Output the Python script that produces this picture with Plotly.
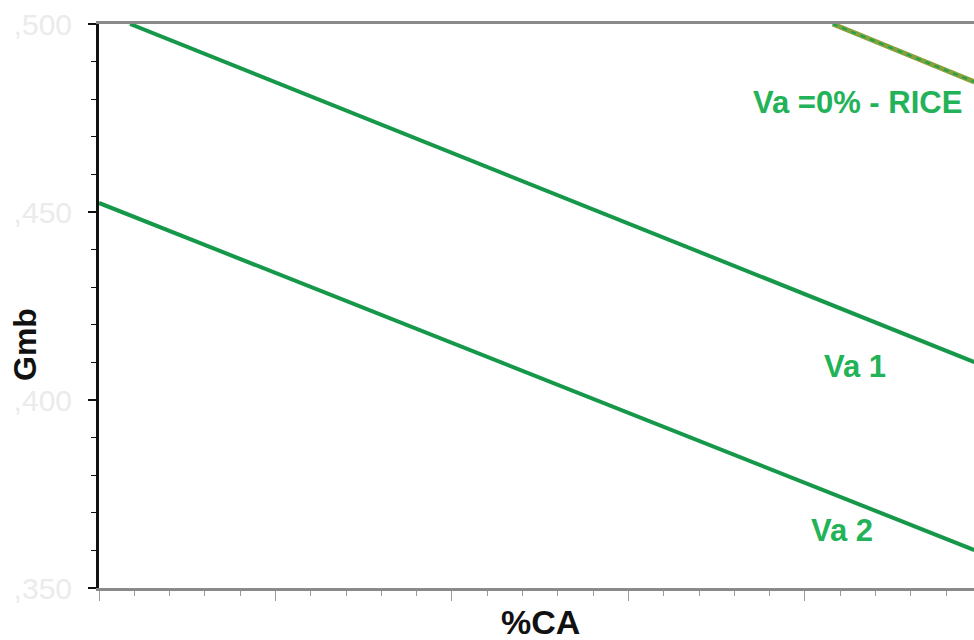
import plotly.graph_objects as go

# %CA (x) and Gmb (y) end points of each relation line
va1_ca = [0.88, 24.8]
va1_gmb = [0.500, 0.4101]

va2_ca = [0.0, 24.8]
va2_gmb = [0.4524, 0.3601]

rice_ca = [20.79, 24.8]
rice_gmb = [0.500, 0.4846]

y_tick_vals = [0.35, 0.40, 0.45, 0.50]
y_tick_text = [",350", ",400", ",450", ",500"]

labels = ["Va =0% - RICE", "Va 1", "Va 2"]
label_ca = [21.5, 21.42, 21.05]
label_gmb = [0.4790, 0.4088, 0.3654]

LINE_GREEN = "#16984a"
TEXT_GREEN = "#22b257"
OLIVE = "#86a03a"

fig = go.Figure()

fig.add_trace(go.Scatter(x=va1_ca, y=va1_gmb, mode="lines",
                         line=dict(color=LINE_GREEN, width=4), showlegend=False))
fig.add_trace(go.Scatter(x=va2_ca, y=va2_gmb, mode="lines",
                         line=dict(color=LINE_GREEN, width=4), showlegend=False))
# RICE line: olive base with green dashes on top
fig.add_trace(go.Scatter(x=rice_ca, y=rice_gmb, mode="lines",
                         line=dict(color=OLIVE, width=5), showlegend=False))
fig.add_trace(go.Scatter(x=rice_ca, y=rice_gmb, mode="lines",
                         line=dict(color="#14a552", width=2, dash="5px,5px"),
                         showlegend=False))

for t, xv, yv in zip(labels, label_ca, label_gmb):
    fig.add_annotation(x=xv, y=yv, text=t, showarrow=False,
                       font=dict(family="Arial, Liberation Sans", size=31,
                                 color=TEXT_GREEN, weight="bold"))

# axis titles placed in paper space
fig.add_annotation(x=540, y=622, xref="paper", yref="paper", text="<b>%CA</b>",
                   showarrow=False, font=dict(size=34, color="#111111"))
fig.add_annotation(x=25, y=345, xref="paper", yref="paper", text="<b>Gmb</b>",
                   textangle=-90, showarrow=False, font=dict(size=32, color="#111111"))

# convert the pixel anchors above to paper fractions
for ann in fig.layout.annotations[-2:]:
    ann.x = (ann.x - 99) / (974 - 99)
    ann.y = (588 - ann.y) / (588 - 24)
    ann.xanchor = "center"
    ann.yanchor = "middle"

fig.update_layout(
    width=974, height=640,
    margin=dict(l=99, r=0, t=24, b=52),
    paper_bgcolor="white", plot_bgcolor="white",
    font=dict(family="Arial, Liberation Sans"),
    xaxis=dict(
        range=[0, 24.79], showgrid=False, zeroline=False, automargin=False,
        showline=True, linecolor="#8a8a8a", linewidth=3, mirror=True,
        ticks="outside", tickcolor="#9a9a9a", ticklen=10, tickwidth=1,
        tick0=0, dtick=5, showticklabels=False,
        minor=dict(ticks="outside", dtick=1, ticklen=5, tickcolor="#9a9a9a"),
    ),
    yaxis=dict(
        range=[0.35, 0.50], showgrid=False, zeroline=False, automargin=False,
        showline=True, linecolor="#111111", linewidth=3,
        ticks="outside", tickcolor="#111111", ticklen=8, tickwidth=2,
        tickvals=y_tick_vals, ticktext=y_tick_text,
        tickfont=dict(size=30, color="#ebebeb"), ticklabelstandoff=10,
        minor=dict(ticks="outside", dtick=0.01, ticklen=5, tickcolor="#111111", tickwidth=1),
    ),
)

fig.write_html("out.html")
